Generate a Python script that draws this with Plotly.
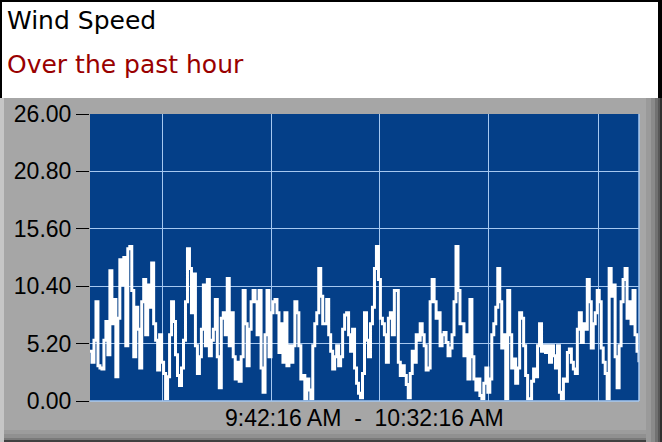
import pandas as pd
import plotly.graph_objects as go

# ---------------- data ----------------
title_text = "Wind Speed"
subtitle_text = "Over the past hour"
time_start = "2024-01-01 09:42:16"
time_end = "2024-01-01 10:32:16"
x_label = "9:42:16 AM\u00a0 -\u00a0 10:32:16 AM"

y_ticks = [0.0, 5.2, 10.4, 15.6, 20.8, 26.0]
grid_times = ["2024-01-01 09:48:50", "2024-01-01 09:58:46", "2024-01-01 10:08:40",
              "2024-01-01 10:18:34", "2024-01-01 10:28:34"]

speed_part1 = [4.5, 3.5, 5.5, 9.0, 3.2, 3.0, 2.9, 5.5, 7.2, 4.2, 11.8, 7.0, 9.2, 2.2, 7.5,
               12.8, 10.5, 13.0, 5.0, 13.8, 14.0, 10.0, 4.0, 8.5, 6.5, 3.0, 9.0, 11.0, 6.0, 10.5,
               8.5, 12.5, 7.0, 5.5, 2.8, 6.0, 3.5, 2.5, 0.2, 2.2, 6.0, 9.0, 7.2, 4.2, 2.3,
               1.4, 3.0, 5.5, 9.0, 13.8, 12.0, 8.0, 11.5, 5.0, 2.5, 4.0, 6.5, 10.5, 5.0]
speed_part2 = [11.0, 4.1, 5.5, 6.5, 9.2, 4.0, 1.2, 7.5, 8.0, 6.0, 11.1, 5.0, 8.0, 4.0, 2.0,
               3.5, 1.8, 4.0, 10.0, 7.0, 3.2, 6.5, 9.0, 10.0, 9.0, 6.0, 10.0, 3.0, 0.8, 6.0,
               10.0, 4.0, 8.0, 9.0, 9.2, 8.0, 4.4, 7.0, 3.5, 8.0, 3.2, 5.0, 3.5, 5.0, 9.0,
               8.0, 5.0, 2.0, 2.3, 0.2, 2.0, 1.0, 0.2, 5.0, 7.0, 8.0, 12.0, 9.5, 7.0]
speed_part3 = [7.0, 9.2, 6.0, 4.5, 2.9, 4.0, 5.0, 3.2, 4.0, 6.5, 7.8, 8.0, 6.0, 4.5, 6.5,
               3.0, 1.6, 0.7, 0.3, 2.5, 8.0, 5.5, 4.0, 7.0, 8.5, 12.0, 14.0, 11.0, 7.5, 7.0,
               6.0, 3.5, 7.5, 8.0, 6.0, 10.0, 10.0, 3.5, 2.3, 3.2, 2.3, 1.5, 0.3, 2.5, 4.5,
               3.5, 6.0, 5.5, 7.0, 6.0, 5.0, 2.8, 3.0, 9.0, 11.0, 9.0, 7.5, 8.0, 5.0]
speed_part4 = [6.0, 6.2, 5.3, 4.1, 4.8, 6.0, 9.0, 14.0, 10.0, 7.0, 7.0, 4.1, 6.0, 2.0, 9.2,
               4.0, 2.0, 1.0, 2.0, 0.5, 0.2, 1.6, 3.0, 0.8, 2.0, 6.0, 7.0, 8.5, 12.0, 9.0,
               4.8, 6.0, 0.2, 10.0, 6.0, 3.0, 3.8, 1.6, 3.0, 8.0, 7.5, 5.0, 2.3, 0.2, 0.2,
               1.8, 2.9, 2.2, 5.0, 7.0, 4.5, 5.0, 4.4, 5.0, 3.5, 5.0, 4.1, 3.0, 5.0]
speed_part5 = [0.8, 0.2, 2.0, 1.8, 4.4, 4.7, 3.5, 2.9, 2.5, 6.5, 8.0, 5.3, 7.0, 6.5, 11.0,
               9.0, 4.8, 7.0, 8.0, 10.0, 9.0, 4.8, 3.5, 2.5, 0.2, 12.0, 9.5, 10.5, 4.0, 1.2,
               5.0, 9.0, 11.0, 12.0, 7.5, 9.0, 7.0, 10.0, 6.0, 4.5, 3.5]

wind_speed = speed_part1 + speed_part2 + speed_part3 + speed_part4 + speed_part5
times = pd.date_range(time_start, time_end, periods=len(wind_speed))

# ---------------- layout geometry (pixels) ----------------
W, H = 662, 442
PL, PR, PT, PB = 90, 639, 114, 401  # plot area edges


def px(x):
    return (x - PL) / (PR - PL)


def py(y):
    return (PB - y) / (PB - PT)


GRAY = "#A6A6A6"
BLUE = "#043F88"
GRID = "#A6C8F0"

fig = go.Figure()
fig.add_trace(go.Scatter(x=times, y=wind_speed, mode="lines",
                         line=dict(color="white", width=3, shape="hv"),
                         hoverinfo="skip", showlegend=False))

shapes = []


def rect(x0, y0, x1, y1, color, layer="below"):
    shapes.append(dict(type="rect", xref="paper", yref="paper",
                       x0=px(x0), x1=px(x1), y0=py(y1), y1=py(y0),
                       fillcolor=color, line=dict(width=0), layer=layer))


# white header
rect(0, 0, W, 98, "white")
# header black border (top, left, right)
rect(0, 0, W, 2, "black")
rect(0, 0, 2, 98, "black")
rect(658, 0, W, 98, "black")
# left light bevel
rect(0, 98, 4, H, "#C6C6C6")
# right dark bevel
rect(646, 98, 651, H, "#9A9A9A")
rect(651, 98, 655, H, "#8A8A8A")
rect(655, 98, 658, H, "#727272")
rect(658, 98, 660, H, "#585858")
rect(660, 98, W, H, "#303030")
# bottom dark bevel
rect(4, 430, 646, 434, "#9C9C9C")
rect(4, 434, 646, 438, "#909090")
rect(4, 438, 646, 440, "#7A7A7A")
rect(4, 440, 646, H, "#404040")

# plot border right/bottom (light blue)
shapes.append(dict(type="line", xref="paper", yref="paper", x0=1, x1=1, y0=0, y1=1,
                   line=dict(color=GRID, width=1.5), layer="above"))
shapes.append(dict(type="line", xref="paper", yref="paper", x0=0, x1=1, y0=0, y1=0,
                   line=dict(color=GRID, width=1.5), layer="above"))

annotations = [
    dict(text=title_text, xref="paper", yref="paper", x=px(5), y=py(20),
         xanchor="left", yanchor="middle", showarrow=False,
         font=dict(family="DejaVu Sans", size=25, color="black")),
    dict(text=subtitle_text, xref="paper", yref="paper", x=px(5), y=py(64.5),
         xanchor="left", yanchor="middle", showarrow=False,
         font=dict(family="DejaVu Sans", size=25, color="#990000")),
    dict(text=x_label, xref="paper", yref="paper", x=0.5, y=py(418),
         xanchor="center", yanchor="middle", showarrow=False,
         font=dict(family="Liberation Sans", size=23, color="black")),
]

fig.update_layout(
    width=W, height=H, autosize=False,
    margin=dict(l=PL, r=W - PR, t=PT, b=H - PB, pad=0),
    paper_bgcolor=GRAY, plot_bgcolor=BLUE,
    shapes=shapes, annotations=annotations,
    xaxis=dict(type="date", range=[time_start, time_end], tickvals=grid_times,
               showticklabels=False, ticks="", showgrid=True, gridcolor=GRID,
               gridwidth=1, zeroline=False, showline=False, fixedrange=True),
    yaxis=dict(range=[0, 26], tickvals=y_ticks, ticktext=[f"{v:.2f}" for v in y_ticks],
               ticks="outside", ticklen=13, tickwidth=1, tickcolor="black",
               tickfont=dict(family="Liberation Sans", size=23, color="black"),
               showgrid=True, gridcolor=GRID, gridwidth=1, zeroline=False,
               showline=False, fixedrange=True),
)

fig.write_html("out.html", config={"displayModeBar": False},
               post_script="document.body.style.margin='0';document.body.style.overflow='hidden';")
